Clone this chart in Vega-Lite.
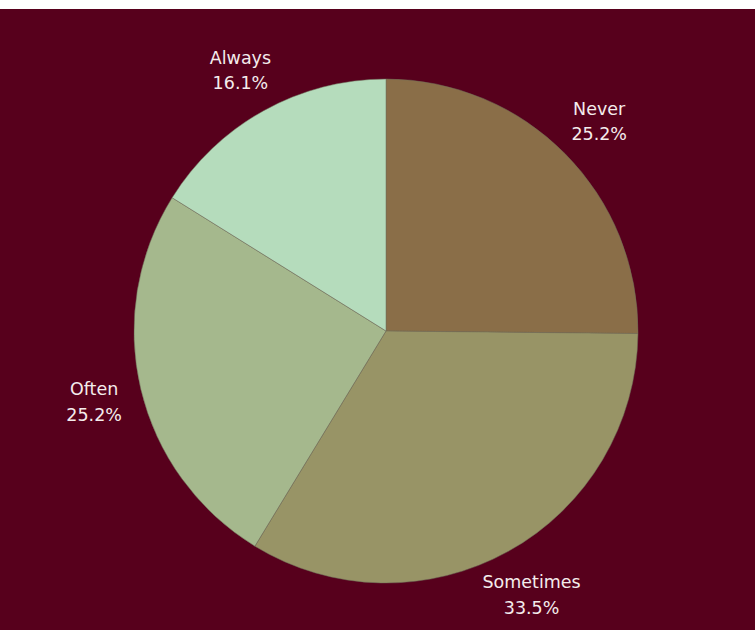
{
  "$schema": "https://vega.github.io/schema/vega-lite/v6.json",
  "width": 772,
  "height": 644,
  "autosize": {"type": "none"},
  "padding": {"top": 9, "left": 0, "right": 0, "bottom": 0},
  "background": "#ffffff",
  "view": {"fill": "#57001c", "stroke": null},
  "data": {
    "values": [
      {"answer": "Never", "count": 39, "order": 1, "name": "Never", "pct": "25.2%"},
      {"answer": "Sometimes", "count": 52, "order": 2, "name": "Sometimes", "pct": "33.5%"},
      {"answer": "Often", "count": 39, "order": 3, "name": "Often", "pct": "25.2%"},
      {"answer": "Always", "count": 25, "order": 4, "name": "Always", "pct": "16.1%"}
    ]
  },
  "encoding": {
    "theta": {"field": "count", "type": "quantitative", "stack": true},
    "order": {"field": "order", "type": "quantitative"}
  },
  "layer": [
    {
      "mark": {"type": "arc", "outerRadius": 252, "stroke": "#6e6e5a", "strokeWidth": 0.5},
      "encoding": {
        "color": {
          "field": "answer",
          "type": "nominal",
          "scale": {
            "domain": ["Never", "Sometimes", "Often", "Always"],
            "range": ["#8a6e48", "#989466", "#a5b88d", "#b5dcbc"]
          },
          "legend": null
        }
      }
    },
    {
      "mark": {"type": "text", "radius": 300, "font": "DejaVu Sans", "fontSize": 17.5, "color": "#f4ecec", "dy": -10, "align": "center", "baseline": "middle"},
      "encoding": {"text": {"field": "name"}}
    },
    {
      "mark": {"type": "text", "radius": 300, "font": "DejaVu Sans", "fontSize": 17.5, "color": "#f4ecec", "dy": 15.5, "align": "center", "baseline": "middle"},
      "encoding": {"text": {"field": "pct"}}
    }
  ]
}
